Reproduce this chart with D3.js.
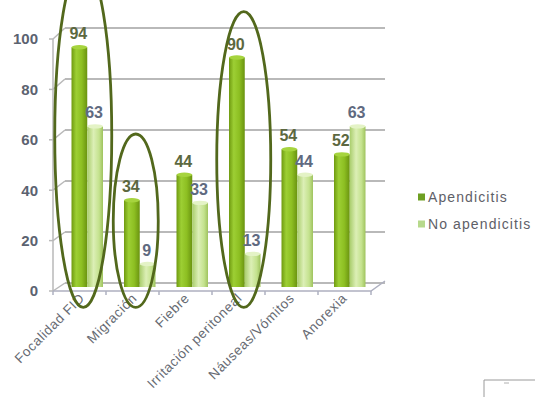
<!DOCTYPE html>
<html><head><meta charset="utf-8">
<script src="https://cdn.jsdelivr.net/npm/d3@7"></script>
<style>html,body{margin:0;padding:0;background:#fff;}svg{display:block;}</style>
</head><body>
<svg id="c" width="535" height="397"></svg>
<script>
const categories = ["Focalidad FID","Migración","Fiebre","Irritación peritoneal","Náuseas/Vómitos","Anorexia"];
const seriesNames = ["Apendicitis","No apendicitis"];
const apendicitis = [94,34,44,90,54,52];
const noApendicitis = [63,9,33,13,44,63];
const yTicks = [0,20,40,60,80,100];
// highlighted categories (annotation ellipses), extents in value units
const highlights = ["Focalidad FID","Migración","Irritación peritoneal"];
const highlightTop = [127,60,108];
const highlightBottom = [-8,-8,-8];

const svg = d3.select("#c");
const depthX = 12;

const x = d3.scaleBand().domain(categories).range([61,376]).paddingInner(0.4).paddingOuter(0.2);
const xs = d3.scaleBand().domain(seriesNames).range([0,x.bandwidth()]);
const yBar = d3.scaleLinear().domain([0,100]).range([287,32]);
const yFront = d3.scaleLinear().domain([0,100]).range([291,39]);
const yBack = d3.scaleLinear().domain([0,100]).range([283,28]);

const defs = svg.append("defs");
function grad(id, stops){
  const g = defs.append("linearGradient").attr("id",id).attr("x1","0%").attr("x2","100%").attr("y1","0%").attr("y2","0%");
  stops.forEach(s=>g.append("stop").attr("offset",s[0]).attr("stop-color",s[1]));
}
grad("gA",[["0%","#6f9a10"],["30%","#9dcf34"],["65%","#8dbf22"],["100%","#6a9310"]]);
grad("gB",[["0%","#a9cd6c"],["40%","#dcefb6"],["75%","#c4e28e"],["100%","#9fc35e"]]);
const fills = {"Apendicitis":"url(#gA)","No apendicitis":"url(#gB)"};
const topFills = {"Apendicitis":"#a6d43e","No apendicitis":"#e4f3c6"};
const legendFills = {"Apendicitis":"#6e9f22","No apendicitis":"#b7d98c"};

const gridCol = "#b9b9b9";
const leftX = 53, backLeft = leftX+depthX, backRight = 385, frontRight = 371;

// back gridlines
svg.append("g").selectAll("line").data(yTicks).join("line")
  .attr("x1",backLeft).attr("x2",backRight)
  .attr("y1",d=>yBack(d)).attr("y2",d=>yBack(d))
  .attr("stroke",gridCol).attr("stroke-width",2);
// left wall diagonals
svg.append("g").selectAll("line").data(yTicks).join("line")
  .attr("x1",leftX).attr("x2",backLeft)
  .attr("y1",d=>yFront(d)).attr("y2",d=>yBack(d))
  .attr("stroke",gridCol).attr("stroke-width",1.5);
// y-axis line and ticks
svg.append("line").attr("x1",leftX).attr("x2",leftX).attr("y1",yFront(100)).attr("y2",yFront(0))
  .attr("stroke",gridCol).attr("stroke-width",1.5);
svg.append("g").selectAll("line").data(yTicks).join("line")
  .attr("x1",leftX-4).attr("x2",leftX).attr("y1",d=>yFront(d)).attr("y2",d=>yFront(d))
  .attr("stroke",gridCol).attr("stroke-width",1.5);
// y tick labels
svg.append("g").selectAll("text").data(yTicks).join("text")
  .attr("x",38).attr("y",d=>yFront(d)).attr("dy","0.36em")
  .attr("text-anchor","end").attr("font-family","Liberation Sans, Arial, sans-serif")
  .attr("font-size",15).attr("font-weight","bold").attr("fill","#5b6270").text(d=>d);

// floor
svg.append("path").attr("d",`M${leftX},${yFront(0)}L${frontRight},${yFront(0)}L${backRight},${yBack(0)-2}`)
  .attr("fill","none").attr("stroke","#aeb0c0").attr("stroke-width",1.5);
// category ticks on floor edge
const bounds = d3.range(categories.length+1).map(i=>leftX + i*(frontRight-leftX)/categories.length);
svg.append("g").selectAll("line").data(bounds).join("line")
  .attr("x1",d=>d).attr("x2",d=>d).attr("y1",yFront(0)).attr("y2",yFront(0)+4)
  .attr("stroke","#aeb0c0").attr("stroke-width",1.5);

// bars
const rows = [];
categories.forEach((c,i)=>{
  rows.push({c, s:"Apendicitis", v:apendicitis[i]});
  rows.push({c, s:"No apendicitis", v:noApendicitis[i]});
});
const bw = xs.bandwidth();
const bg = svg.append("g");
rows.forEach(r=>{
  const x0 = x(r.c)+xs(r.s);
  bg.append("rect").attr("x",x0).attr("y",yBar(r.v)).attr("width",bw).attr("height",yBar(0)-yBar(r.v))
    .attr("fill",fills[r.s]);
  bg.append("ellipse").attr("cx",x0+bw/2).attr("cy",yBar(r.v)).attr("rx",bw/2).attr("ry",2.2)
    .attr("fill",topFills[r.s]);
});
// value labels
svg.append("g").selectAll("text").data(rows).join("text")
  .attr("x",d=>x(d.c)+xs(d.s)+bw/2-1).attr("y",d=>yBar(d.v)-8)
  .attr("text-anchor","middle").attr("font-family","Liberation Sans, Arial, sans-serif")
  .attr("font-size",16).attr("font-weight","bold")
  .attr("fill",d=>d.s==="Apendicitis"?"#5c6840":"#5f6a80").text(d=>d.v);

// category labels
svg.append("g").selectAll("text").data(categories).join("text")
  .attr("transform",d=>`translate(${x(d)+x.bandwidth()/2-2},${yFront(0)+8}) rotate(-45)`)
  .attr("text-anchor","end").attr("font-family","Liberation Sans, Arial, sans-serif")
  .attr("font-size",13.5).attr("letter-spacing","0.6px").attr("fill","#666a72").text(d=>d);

// annotation ellipses
svg.append("g").selectAll("ellipse").data(highlights).join("ellipse")
  .attr("cx",(d,i)=>x(d)+x.bandwidth()/2-[4,4,1][i])
  .attr("cy",(d,i)=>(yBar(highlightTop[i])+yBar(highlightBottom[i]))/2)
  .attr("rx",(d,i)=>[28.5,22.5,27][i])
  .attr("ry",(d,i)=>(yBar(highlightBottom[i])-yBar(highlightTop[i]))/2)
  .attr("fill","none").attr("stroke","#52681c").attr("stroke-width",2.8);

// legend
const lg = svg.append("g").attr("transform","translate(418,197)");
seriesNames.forEach((s,i)=>{
  const g = lg.append("g").attr("transform",`translate(0,${i*27})`);
  g.append("rect").attr("x",0).attr("y",-3.5).attr("width",7).attr("height",7).attr("fill",legendFills[s]);
  g.append("text").attr("x",10).attr("y",0).attr("dy","0.36em")
    .attr("font-family","Liberation Sans, Arial, sans-serif").attr("font-size",14)
    .attr("letter-spacing","1.1px").attr("fill","#5e6068").text(s);
});

// small frame at bottom right
svg.append("path").attr("d","M484,397L484,380L535,380").attr("fill","none").attr("stroke","#9a9a9a").attr("stroke-width",1);
svg.append("line").attr("x1",504).attr("x2",509).attr("y1",383).attr("y2",383).attr("stroke","#b0b0b0").attr("stroke-width",1);
</script>
</body></html>
